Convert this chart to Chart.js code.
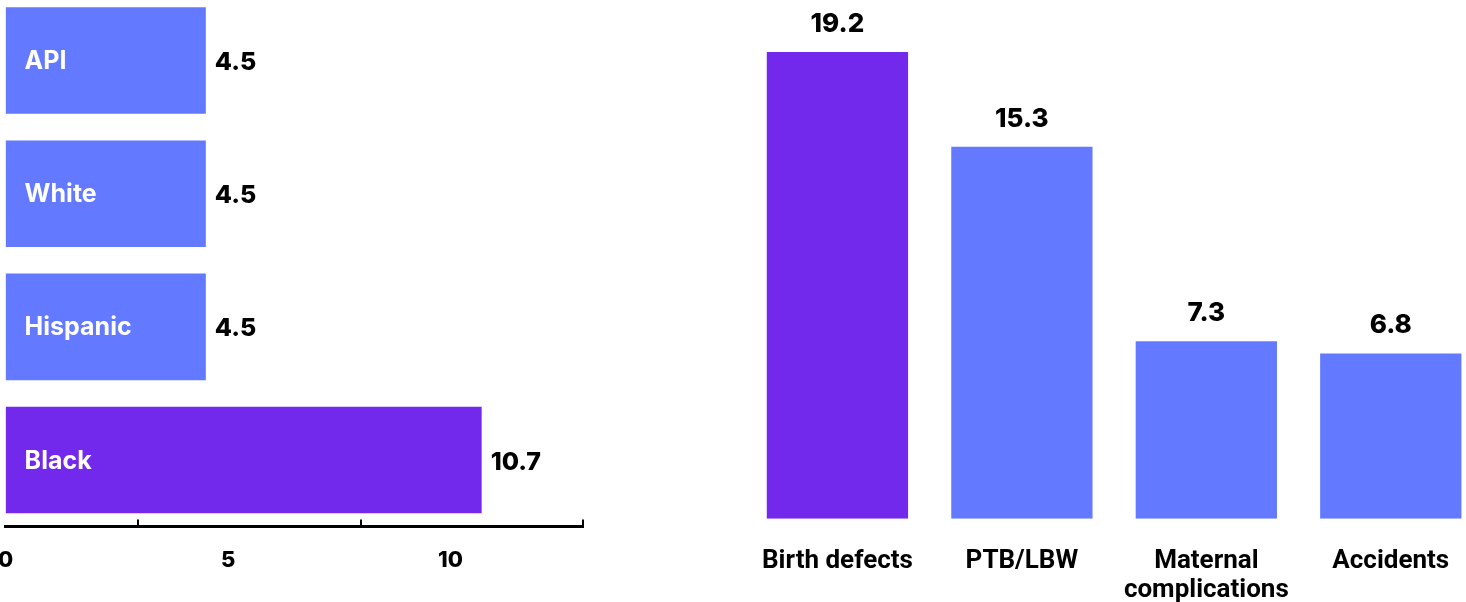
<!DOCTYPE html>
<html>
<head>
<meta charset="utf-8">
<script src="https://cdn.jsdelivr.net/npm/chart.js@4"></script>
<style>
    html, body { margin: 0; padding: 0; background: #fff; overflow: hidden; }
    body { width: 1466px; height: 602px; position: relative; }
    .box { position: absolute; }
    #leftBox { left: -23px; top: -6px; width: 607px; height: 601px; }
    #rightBox { left: 734px; top: 0; width: 749px; height: 633px; }
</style>
</head>
<body>
<div class="box" id="leftBox"><canvas id="raceChart"></canvas></div>
<div class="box" id="rightBox"><canvas id="causeChart"></canvas></div>
<script>
var raceLabels = ['API', 'White', 'Hispanic', 'Black'];
var raceValues = [4.5, 4.5, 4.5, 10.7];
var raceTickLabels = ['0', '5', '10'];
var raceTickMarks = [3, 8, 13];

var causeLabels = ['Birth defects', 'PTB/LBW', ['Maternal', 'complications'], 'Accidents'];
var causeValues = [19.2, 15.3, 7.3, 6.8];

var blue = '#6379FF';
var purple = '#7229EB';
var numFont = '"Inter", "Noto Sans", sans-serif';
var condFont = '"Liberation Sans Narrow", "Roboto", sans-serif';

function colorsFor(values) {
    var top = Math.max.apply(null, values);
    return values.map(function (v) { return v === top ? purple : blue; });
}

// labels inside and after the horizontal bars, plus the little tick marks on the axis
var raceLabelsPlugin = {
    id: 'raceLabels',
    afterDatasetsDraw: function (chart) {
        var ctx = chart.ctx;
        var meta = chart.getDatasetMeta(0);
        ctx.save();
        ctx.textBaseline = 'middle';
        meta.data.forEach(function (bar, i) {
            ctx.fillStyle = '#fff';
            ctx.font = '700 25px ' + numFont;
            ctx.textAlign = 'left';
            ctx.fillText(raceLabels[i], bar.base + 19, bar.y + 1);
            ctx.fillStyle = '#000';
            ctx.font = '800 25px ' + numFont;
            ctx.fillText(String(raceValues[i]), bar.x + 9, bar.y + 2);
        });
        var xs = chart.scales.x;
        ctx.strokeStyle = '#000';
        ctx.lineWidth = 2;
        raceTickMarks.forEach(function (v) {
            var px = Math.round(xs.getPixelForValue(v)) - 1;
            ctx.beginPath();
            ctx.moveTo(px, xs.top);
            ctx.lineTo(px, xs.top - 7);
            ctx.stroke();
        });
        ctx.restore();
    }
};

var causeLabelsPlugin = {
    id: 'causeLabels',
    afterDatasetsDraw: function (chart) {
        var ctx = chart.ctx;
        var meta = chart.getDatasetMeta(0);
        ctx.save();
        ctx.fillStyle = '#000';
        ctx.font = '800 26px ' + numFont;
        ctx.textAlign = 'center';
        ctx.textBaseline = 'alphabetic';
        meta.data.forEach(function (bar, i) {
            ctx.fillText(String(causeValues[i]), bar.x, bar.y - 20);
        });
        ctx.restore();
    }
};

var raceChart = new Chart(document.getElementById('raceChart').getContext('2d'), {
    type: 'bar',
    data: {
        labels: raceLabels,
        datasets: [{
            data: raceValues,
            backgroundColor: colorsFor(raceValues),
            categoryPercentage: 1,
            barPercentage: 0.8
        }]
    },
    options: {
        indexAxis: 'y',
        responsive: true,
        maintainAspectRatio: false,
        animation: false,
        layout: { padding: 0 },
        plugins: { legend: { display: false }, tooltip: { enabled: false } },
        scales: {
            x: {
                min: 0,
                max: 13,
                grid: { display: false, drawTicks: false },
                border: { display: true, color: '#000', width: 3 },
                ticks: {
                    stepSize: 5,
                    includeBounds: false,
                    padding: 21,
                    color: '#000',
                    font: { family: numFont, size: 22, weight: '800' },
                    callback: function (v) { return raceTickLabels[v / 5]; }
                }
            },
            y: { display: false }
        }
    },
    plugins: [raceLabelsPlugin]
});

var causeChart = new Chart(document.getElementById('causeChart').getContext('2d'), {
    type: 'bar',
    data: {
        labels: causeLabels,
        datasets: [{
            data: causeValues,
            backgroundColor: colorsFor(causeValues),
            categoryPercentage: 1,
            barPercentage: 0.766
        }]
    },
    options: {
        responsive: true,
        maintainAspectRatio: false,
        animation: false,
        layout: { padding: 0 },
        plugins: { legend: { display: false }, tooltip: { enabled: false } },
        scales: {
            x: {
                grid: { display: false, drawTicks: false },
                border: { display: false },
                ticks: {
                    padding: 28,
                    color: '#000',
                    maxRotation: 0,
                    autoSkip: false,
                    font: { family: condFont, size: 26, weight: '700', lineHeight: 1.12 }
                }
            },
            y: { display: false, min: 0, max: 21.34 }
        }
    },
    plugins: [causeLabelsPlugin]
});
</script>
</body>
</html>
